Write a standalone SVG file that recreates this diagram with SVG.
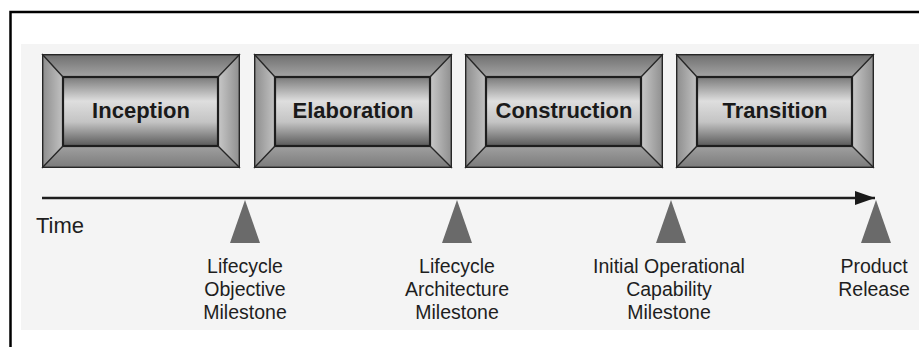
<svg xmlns="http://www.w3.org/2000/svg" xmlns:xlink="http://www.w3.org/1999/xlink" width="919" height="347" viewBox="0 0 919 347">
  <style>
    .phase-label { font-family: "Liberation Sans", Arial, sans-serif; font-weight: bold; font-size: 22px; fill: #1a1a1a; text-anchor: middle; }
    .ms-label { font-family: "Liberation Sans", Arial, sans-serif; font-size: 19.5px; fill: #1e1e1e; text-anchor: middle; }
    .time { font-family: "Liberation Sans", Arial, sans-serif; font-size: 22px; fill: #1e1e1e; }
    .edge { stroke: #262626; stroke-width: 1.4; fill: none; }
    .milestone { fill: #6a6a6a; }
  </style>
  <defs>
    <linearGradient id="gTop" x1="0" y1="0" x2="0" y2="1">
      <stop offset="0" stop-color="#6e6e6e"/>
      <stop offset="1" stop-color="#a4a4a4"/>
    </linearGradient>
    <linearGradient id="gBottom" x1="0" y1="0" x2="0" y2="1">
      <stop offset="0" stop-color="#a0a0a0"/>
      <stop offset="1" stop-color="#7a7a7a"/>
    </linearGradient>
    <linearGradient id="gLeft" x1="0" y1="0" x2="1" y2="0">
      <stop offset="0" stop-color="#8c8c8c"/>
      <stop offset="1" stop-color="#c2c2c2"/>
    </linearGradient>
    <linearGradient id="gRight" x1="0" y1="0" x2="1" y2="0">
      <stop offset="0" stop-color="#c8c8c8"/>
      <stop offset="1" stop-color="#8e8e8e"/>
    </linearGradient>
    <linearGradient id="gInner" x1="0" y1="0" x2="0" y2="1">
      <stop offset="0" stop-color="#7a7a7a"/>
      <stop offset="0.35" stop-color="#dedede"/>
      <stop offset="0.65" stop-color="#c4c4c4"/>
      <stop offset="1" stop-color="#5a5a5a"/>
    </linearGradient>
    <g id="phase">
      <polygon points="0,0 198,0 176,23 21,23" fill="url(#gTop)"/>
      <polygon points="0,114 198,114 176,92 21,92" fill="url(#gBottom)"/>
      <polygon points="0,0 21,23 21,92 0,114" fill="url(#gLeft)"/>
      <polygon points="198,0 176,23 176,92 198,114" fill="url(#gRight)"/>
      <rect x="21" y="23" width="155" height="69" fill="url(#gInner)" stroke="#1e1e1e" stroke-width="2.2"/>
      <rect x="0.7" y="0.7" width="196.6" height="112.6" class="edge"/>
      <path d="M0,0 L21,23 M198,0 L176,23 M0,114 L21,92 M198,114 L176,92" class="edge"/>
    </g>
    <marker id="arrowHead" markerWidth="20" markerHeight="14" refX="20" refY="7" orient="auto" markerUnits="userSpaceOnUse">
      <polygon points="0,0 20,7 0,14" fill="#1a1a1a"/>
    </marker>
  </defs>

  <rect width="919" height="347" fill="#ffffff"/>
  <!-- outer frame -->
  <path d="M10.5,347 V12 H919" fill="none" stroke="#000" stroke-width="2.5"/>
  <!-- panel -->
  <rect x="21" y="44" width="898" height="286" fill="#f4f4f4"/>

  <g id="inception" transform="translate(42,54)">
    <use xlink:href="#phase" href="#phase"/>
    <text x="99" y="64" class="phase-label">Inception</text>
  </g>
  <g id="elaboration" transform="translate(254,54)">
    <use xlink:href="#phase" href="#phase"/>
    <text x="99" y="64" class="phase-label">Elaboration</text>
  </g>
  <g id="construction" transform="translate(465,54)">
    <use xlink:href="#phase" href="#phase"/>
    <text x="99" y="64" class="phase-label">Construction</text>
  </g>
  <g id="transition" transform="translate(676,54)">
    <use xlink:href="#phase" href="#phase"/>
    <text x="99" y="64" class="phase-label">Transition</text>
  </g>

  <g id="connectors">
    <line x1="42" y1="198" x2="875" y2="198" stroke="#1e1e1e" stroke-width="2.6" marker-end="url(#arrowHead)"/>
  </g>

  <g id="time-label">
    <text x="36" y="233" class="time">Time</text>
  </g>

  <g id="ms-lco">
    <polygon points="245,200 230,243 260,243" class="milestone"/>
    <text x="245" y="273" class="ms-label">Lifecycle</text>
    <text x="245" y="296" class="ms-label">Objective</text>
    <text x="245" y="319" class="ms-label">Milestone</text>
  </g>
  <g id="ms-lca">
    <polygon points="457,200 442,243 472,243" class="milestone"/>
    <text x="457" y="273" class="ms-label">Lifecycle</text>
    <text x="457" y="296" class="ms-label">Architecture</text>
    <text x="457" y="319" class="ms-label">Milestone</text>
  </g>
  <g id="ms-ioc">
    <polygon points="671,200 656,243 686,243" class="milestone"/>
    <text x="669" y="273" class="ms-label">Initial Operational</text>
    <text x="669" y="296" class="ms-label">Capability</text>
    <text x="669" y="319" class="ms-label">Milestone</text>
  </g>
  <g id="ms-release">
    <polygon points="876,200 861,243 891,243" class="milestone"/>
    <text x="874" y="273" class="ms-label">Product</text>
    <text x="874" y="296" class="ms-label">Release</text>
  </g>
</svg>
